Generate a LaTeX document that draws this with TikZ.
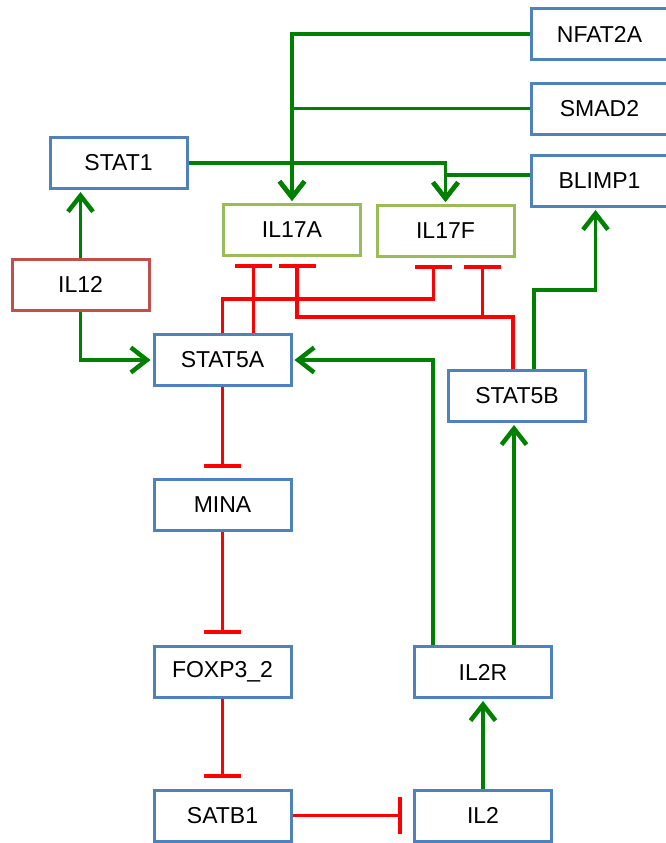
\documentclass[tikz,border=0pt]{standalone}
\usepackage{fontspec}
\setmainfont{Liberation Sans}
\usetikzlibrary{arrows.meta}
\definecolor{boxblue}{HTML}{4F81BD}
\definecolor{boxgreen}{HTML}{9BBB59}
\definecolor{boxred}{HTML}{C0504D}
\definecolor{actgreen}{HTML}{008000}
\definecolor{inhred}{HTML}{FF0000}
\tikzset{
  gene/.style={draw=boxblue, line width=3pt, fill=white, minimum width=137pt, minimum height=51pt,
    inner sep=0pt, font=\fontsize{23}{27}\selectfont},
  genegreen/.style={gene, draw=boxgreen},
  genered/.style={gene, draw=boxred},
  act/.style={draw=actgreen, line width=3.8pt, -{Straight Barb[length=16pt, width=25pt, line width=4.5pt]}, shorten >=2pt},
  inh/.style={draw=inhred, line width=3.8pt, -{Bar[width=37pt, line width=3.8pt]}},
}
\begin{document}
\begin{tikzpicture}[x=1pt, y=-1pt]
\useasboundingbox (0,0) rectangle (666,843);
% nodes
\node[gene] (NFAT2A) at (599.5,34) {NFAT2A};
\node[gene] (SMAD2) at (599.5,108.5) {SMAD2};
\node[gene] (BLIMP1) at (599.5,181) {BLIMP1};
\node[gene] (STAT1) at (118.5,163) {STAT1};
\node[genered] (IL12) at (80.5,284.5) {IL12};
\node[genegreen] (IL17A) at (292,230) {IL17A};
\node[genegreen] (IL17F) at (445.5,231) {IL17F};
\node[gene] (STAT5A) at (222.5,360) {STAT5A};
\node[gene] (STAT5B) at (517,396) {STAT5B};
\node[gene] (MINA) at (222.5,505) {MINA};
\node[gene] (FOXP3) at (222.5,672) {FOXP3\_2};
\node[gene] (SATB1) at (222.5,815.5) {SATB1};
\node[gene] (IL2R) at (483,672) {IL2R};
\node[gene] (IL2) at (483,815.5) {IL2};

% activations
\draw[act] (NFAT2A.west) -| (IL17A.north);
\draw[act] (SMAD2.west) -| (IL17A.north);
\draw[act] (STAT1.east) -| (IL17F.north);
\draw[act] ([yshift=6pt]BLIMP1.west) -| (IL17F.north);
\draw[act] (IL12.north) -- (IL12.north |- STAT1.south);
\draw[act] (IL12.south) |- (STAT5A.west);
\draw[act] ([xshift=-50pt]IL2R.north) |- (STAT5A.east);
\draw[act] ([xshift=31pt]IL2R.north) -- ([xshift=31pt]IL2R.north |- STAT5B.south);
\draw[act] ([xshift=17pt]STAT5B.north) -- ++(0,-79) -| ([xshift=-4pt]BLIMP1.south);
\draw[act] (IL2.north) -- (IL2R.south);

% inhibitions
\draw[inh, shorten >=7pt] ([xshift=31pt]STAT5A.north) -- ([xshift=31pt]STAT5A.north |- IL17A.south);
\draw[inh, shorten >=7pt] (STAT5A.north) -- ++(0,-34) -| ([xshift=-12pt]IL17F.south);
\draw[inh, shorten >=7pt] ([xshift=-4pt]STAT5B.north) -- ++(0,-52) -| ([xshift=5pt]IL17A.south);
\draw[inh, shorten >=7pt] ([xshift=-4pt]STAT5B.north) -- ++(0,-52) -| ([xshift=37pt]IL17F.south);
\draw[inh, shorten >=10pt] (STAT5A.south) -- (MINA.north);
\draw[inh, shorten >=11pt] (MINA.south) -- (FOXP3.north);
\draw[inh, shorten >=11pt] (FOXP3.south) -- (SATB1.north);
\draw[inh, shorten >=11pt] (SATB1.east) -- (IL2.west);
\end{tikzpicture}
\end{document}
